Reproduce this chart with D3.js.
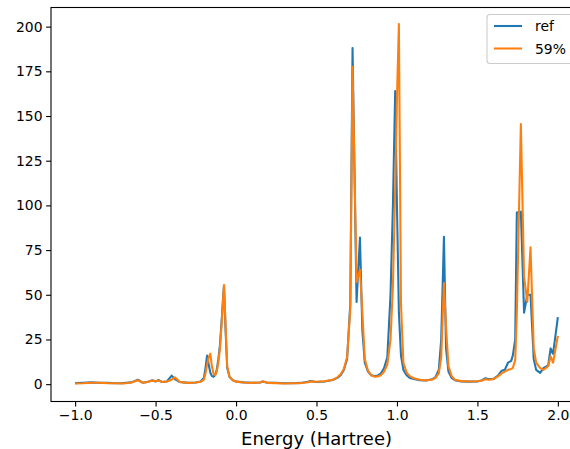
<!DOCTYPE html>
<html>
<head>
<meta charset="utf-8">
<script src="https://cdn.jsdelivr.net/npm/d3@7"></script>
<style>
  html, body { margin: 0; padding: 0; background: #fff; }
  svg { display: block; font-family: "DejaVu Sans", sans-serif; }
</style>
</head>
<body>
<svg id="chart" width="570" height="449"></svg>
<script>
// shared energy grid (Hartree)
const energy = [-1.00,-0.95,-0.90,-0.85,-0.80,-0.75,-0.70,-0.65,-0.61,-0.58,
  -0.55,-0.52,-0.50,-0.48,-0.46,-0.43,-0.40,-0.38,-0.35,-0.30,
  -0.25,-0.22,-0.20,-0.19,-0.18,-0.17,-0.16,-0.15,-0.14,-0.13,
  -0.12,-0.11,-0.10,-0.09,-0.08,-0.075,-0.065,-0.055,-0.04,-0.02,
  0.00,0.05,0.10,0.15,0.165,0.20,0.25,0.30,0.35,0.40,
  0.45,0.46,0.50,0.55,0.60,0.63,0.65,0.67,0.69,0.71,
  0.724,0.749,0.770,0.785,0.80,0.82,0.84,0.86,0.88,0.90,
  0.92,0.94,0.96,0.975,0.989,1.000,1.012,1.025,1.04,1.06,
  1.08,1.10,1.14,1.18,1.22,1.24,1.26,1.275,1.292,1.305,
  1.32,1.34,1.36,1.40,1.45,1.50,1.53,1.55,1.57,1.60,
  1.63,1.65,1.67,1.69,1.71,1.72,1.735,1.745,1.77,1.79,
  1.81,1.83,1.85,1.865,1.89,1.91,1.94,1.955,1.97,2.00];

const refValues = [0.6,0.8,1.0,0.8,0.7,0.5,0.6,1.0,2.5,0.8,
  1.2,2.2,1.5,2.3,1.2,1.5,4.8,2.8,1.2,0.7,
  0.9,1.5,3.5,9,16,11,6.5,4.5,4.2,5,
  8,14,22,35,49,55,30,9,4,2.2,
  1.4,1.0,0.8,0.9,1.5,0.7,0.7,0.5,0.5,0.7,
  1.3,1.8,1.2,1.5,2.3,3.5,5,8,14,45,
  188,46,82,30,12,7,5,4.5,4.8,6,
  9,15,50,100,164,100,40,16,8,5,
  3.5,3,2.2,2,2.8,4,8,25,82.5,20,
  7,3.5,2.2,1.5,1.4,1.5,2.2,3.3,2.8,3,
  5,7.5,8,12,13,16,25,96,96.5,40,
  50,50,14,8,6.3,9,10.5,20,17,37.5];

const pctValues = [0.4,0.5,0.8,0.8,0.6,0.5,0.4,0.9,2.2,0.8,
  1.2,2.0,1.6,2.0,1.2,1.5,2.5,3.8,1.2,0.7,
  0.9,1.3,2.5,6,11,15,17,10,6,5,
  7,12,20,33,48,55.5,33,10,4,2.2,
  1.4,0.9,0.7,0.9,1.6,0.7,0.6,0.4,0.5,0.6,
  1.1,1.5,1.3,1.6,2.4,3.8,5.5,8.5,15,42,
  177.5,57,64,40,14,7.5,5,4.2,4.3,5,
  7,11,25,55,110,160,201.5,45,12,6.5,
  4.5,3.5,2.5,2.1,2.6,3.5,6,15,56.5,32,
  10,4.5,2.5,1.7,1.5,1.6,2.0,2.8,2.5,2.8,
  4.5,6,7,8,8.5,9,13.6,40,145.5,60,
  46,76.5,20,12,9,8,10,15.5,12,27];

const seriesNames = ["ref", "59%"];
const seriesColors = ["#1f77b4", "#ff7f0e"];
const xTicks = [-1.0, -0.5, 0.0, 0.5, 1.0, 1.5, 2.0];
const yTicks = [0, 25, 50, 75, 100, 125, 150, 175, 200];

const svg = d3.select("#chart");
const axL = 51, axR = 580, axT = 7.5, axB = 401.5;

const x = d3.scaleLinear().domain([-1.15, 2.15]).range([axL, 582]);
const y = d3.scaleLinear().domain([-9.7, 210.7]).range([axB, axT]);

svg.append("defs").append("clipPath").attr("id", "clip")
  .append("rect").attr("x", axL).attr("y", axT)
  .attr("width", axR - axL).attr("height", axB - axT);

const fmt = d => d3.format(".1f")(d).replace("-", "\u2212");

const xAxis = svg.append("g").attr("transform", `translate(0,${axB})`)
  .call(d3.axisBottom(x).tickValues(xTicks).tickFormat(fmt).tickSize(4.9).tickPadding(3.6));
const yAxis = svg.append("g").attr("transform", `translate(${axL},0)`)
  .call(d3.axisLeft(y).tickValues(yTicks).tickSize(4.9).tickPadding(3.6));

[xAxis, yAxis].forEach(g => {
  g.select(".domain").remove();
  g.selectAll(".tick line").attr("stroke", "#000").attr("stroke-width", 1.1);
  g.selectAll(".tick text").attr("fill", "#000").style("font-size", "13.9px")
    .style("font-family", "'DejaVu Sans', sans-serif");
});

const line = d3.line().x((d, i) => x(energy[i])).y(d => y(d));
const plot = svg.append("g").attr("clip-path", "url(#clip)");
[refValues, pctValues].forEach((vals, k) => {
  plot.append("path").datum(vals)
    .attr("fill", "none")
    .attr("stroke", seriesColors[k])
    .attr("stroke-width", 2.08)
    .attr("stroke-linejoin", "round")
    .attr("d", line);
});

// axes frame (spines)
svg.append("rect").attr("x", axL).attr("y", axT)
  .attr("width", axR - axL).attr("height", axB - axT)
  .attr("fill", "none").attr("stroke", "#000").attr("stroke-width", 1.1);

svg.append("text").attr("x", (axL + 582) / 2).attr("y", 445)
  .attr("text-anchor", "middle").style("font-size", "18px").attr("fill", "#000")
  .text("Energy (Hartree)");

// legend
const lg = svg.append("g");
lg.append("rect").attr("x", 487).attr("y", 14.5).attr("width", 86).attr("height", 49)
  .attr("rx", 3).attr("fill", "#fff").attr("fill-opacity", 0.8)
  .attr("stroke", "#cccccc").attr("stroke-width", 1.1);
seriesNames.forEach((name, i) => {
  const cy = 26 + i * 22.5;
  lg.append("line").attr("x1", 494).attr("x2", 522).attr("y1", cy).attr("y2", cy)
    .attr("stroke", seriesColors[i]).attr("stroke-width", 2.08);
  lg.append("text").attr("x", 535).attr("y", cy + 5).style("font-size", "13.9px")
    .attr("fill", "#000").text(name);
});
</script>
</body>
</html>
